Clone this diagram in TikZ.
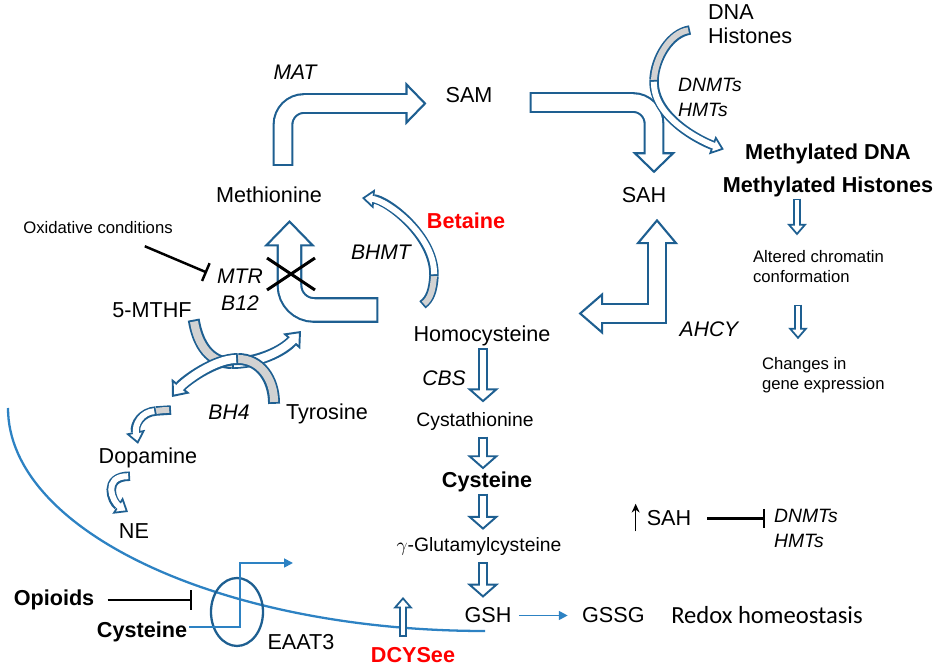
\documentclass[tikz,border=0pt]{standalone}
\usepackage{fontspec}
\setmainfont{Liberation Sans}
\newfontfamily\calibri{Carlito}
\usepackage{tikz}
\usetikzlibrary{shapes, arrows.meta, positioning, calc}

\definecolor{pathblue}{RGB}{30,95,145}
\definecolor{lineblue}{RGB}{45,130,195}
\definecolor{tailgray}{RGB}{210,210,210}

\tikzstyle{metab} = [font=\fontsize{12.3}{14}\selectfont, inner sep=1pt]
\tikzstyle{metabsmall} = [font=\fontsize{11}{13}\selectfont, inner sep=1pt]
\tikzstyle{metabbold} = [font=\fontsize{12.3}{14}\selectfont\bfseries, inner sep=1pt]
\tikzstyle{drug} = [metabbold, text=red]
\tikzstyle{enzyme} = [font=\fontsize{12}{14}\selectfont\itshape, inner sep=1pt]
\tikzstyle{note} = [font=\fontsize{9.5}{11.3}\selectfont, align=left, inner sep=1pt]
\tikzstyle{redox} = [font=\calibri\fontsize{14}{16}\selectfont, inner sep=1pt]
\tikzstyle{bigbend} = [draw=pathblue, line width=11.8pt, rounded corners=12pt, -{Triangle[length=12pt 0, width=24.5pt 0, fill=white, color=pathblue, line width=1.2pt 0]}, postaction={draw=white, line width=9.4pt, arrows=-, shorten <=1.2pt, shorten >=10pt}]
\tikzstyle{mtrbend} = [draw=pathblue, line width=14.6pt, rounded corners=14pt, -{Triangle[length=15pt 0, width=29pt 0, fill=white, color=pathblue, line width=1.2pt 0]}, postaction={draw=white, line width=12.2pt, arrows=-, shorten <=1.2pt, shorten >=13pt}]
\tikzstyle{twoway} = [draw=pathblue, line width=11.8pt, {Triangle[length=14pt 0, width=24pt 0, fill=white, color=pathblue, line width=1.2pt 0]}-{Triangle[length=14.5pt 0, width=24pt 0, fill=white, color=pathblue, line width=1.2pt 0]}, postaction={draw=white, line width=9.4pt, arrows=-, shorten <=12pt, shorten >=12.5pt}]
\tikzstyle{stepdown} = [draw=pathblue, line width=6pt, -{Triangle[length=8pt 0, width=18pt 0, fill=white, color=pathblue, line width=1.1pt 0]}, postaction={draw=white, line width=3.8pt, arrows=-, shorten <=1.1pt, shorten >=6.5pt}]
\tikzstyle{smallstep} = [draw=pathblue, line width=4.4pt, -{Triangle[length=6.5pt 0, width=11pt 0, fill=white, color=pathblue, line width=1pt 0]}, postaction={draw=white, line width=2.4pt, arrows=-, shorten <=1pt, shorten >=5pt}]
\tikzstyle{curvearr} = [draw=pathblue, line width=6.8pt, -{Triangle[length=8pt 0, width=13pt 0, fill=white, color=pathblue, line width=1.1pt 0]}, postaction={draw=white, line width=4.6pt, arrows=-, shorten <=1.1pt, shorten >=6.5pt}]
\tikzstyle{curvetail} = [draw=pathblue, line width=6.8pt, postaction={draw=tailgray, line width=4.6pt, shorten <=1.1pt}]
\tikzstyle{thincurve} = [draw=pathblue, line width=5.4pt, -{Triangle[length=7pt 0, width=11pt 0, fill=white, color=pathblue, line width=1pt 0]}, postaction={draw=white, line width=3.4pt, arrows=-, shorten <=1pt, shorten >=5.5pt}]
\tikzstyle{thincurvetail} = [draw=pathblue, line width=5.4pt, postaction={draw=tailgray, line width=3.4pt, shorten <=1pt}]
\tikzstyle{inhibit} = [line width=1.4pt, -{Bar[width=11pt 0]}]
\tikzstyle{thinarrow} = [draw=lineblue, line width=1pt, -{Triangle[length=5pt 0, width=5pt 0]}]
\tikzstyle{uparrow} = [line width=0.9pt, -{Stealth[length=5pt 0, width=4.5pt 0]}]
\tikzstyle{membrane} = [draw=lineblue, line width=1.3pt]
\tikzstyle{transporter} = [ellipse, draw=pathblue, line width=1.3pt, minimum width=1.04cm, minimum height=1.36cm, inner sep=0pt]
\tikzstyle{crossmark} = [cross out, draw=black, line width=1.7pt, minimum width=0.9cm, minimum height=0.58cm, inner sep=0pt]

\begin{document}
\begin{tikzpicture}[x=0.02cm, y=-0.02cm]
\useasboundingbox (0,0) rectangle (941,665);

% cell membrane
\draw[membrane] (8,408) .. controls (8,531) and (222,631) .. (485,631);

% methionine cycle
\node[enzyme] (mat) at (295,72) {MAT};
\node[metab] (sam) at (469,95) {SAM};
\node[metab] (met) at (269,195) {Methionine};
\node[metab] (sah) at (644,195) {SAH};
\node[metab] (hcy) at (482,336) {Homocysteine};
\node[enzyme] (bhmt) at (381,252) {BHMT};
\node[drug] (betaine) at (466,221) {Betaine};
\node[enzyme] (ahcy) at (709,329) {AHCY};
\node[note] (ox) at (98,228) {Oxidative conditions};
\node[enzyme] (mtr) at (240,276) {MTR};
\node[enzyme, below=0.17cm of mtr] (b12) {B12};
\node[metab] (mthf) at (152,310) {5-MTHF};
\node[enzyme] (bh4) at (229,412) {BH4};
\node[metab] (tyr) at (327,414) {Tyrosine};
\node[metab] (dopa) at (148,458) {Dopamine};
\node[metab] (ne) at (134,531.5) {NE};

% methylation targets
\node[metab, font=\fontsize{12.3}{13.6}\selectfont, align=left, anchor=west] (dna) at (706,24) {DNA\\Histones};
\node[enzyme, font=\fontsize{11}{14.2}\selectfont\itshape, align=left, anchor=west] (dnmt) at (676,97) {DNMTs\\HMTs};
\node[metabbold, font=\fontsize{12.3}{18.7}\selectfont\bfseries, align=center] (methyl) at (828,170) {Methylated DNA\\Methylated Histones};
\node[note, anchor=west] (chrom) at (751,266.5) {Altered chromatin\\conformation};
\node[note, anchor=west] (gene) at (760,375) {Changes in\\gene expression};

% transsulfuration
\node[enzyme] (cbs) at (444,378) {CBS};
\node[metabsmall] (cysta) at (475,421.5) {Cystathionine};
\node[metabbold] (cys) at (487,481.5) {Cysteine};
\node[metabsmall] (glu) at (479,547) {$\gamma$-Glutamylcysteine};
\node[metab] (gsh) at (488,615.5) {GSH};
\node[metab, right=1.33cm of gsh] (gssg) {GSSG};
\node[redox, right=0.45cm of gssg] (redox) {Redox homeostasis};
\node[metab] (sahup) at (669,518.5) {SAH};
\node[enzyme, font=\fontsize{11}{14.2}\selectfont\itshape, align=left, anchor=west] (dnmt2) at (772,528) {DNMTs\\HMTs};

% cell surface
\node[metabbold] (opi) at (54,600) {Opioids};
\node[metabbold] (cysb) at (142,632) {Cysteine};
\node[metab] (eaatlab) at (301,642) {EAAT3};
\node[drug] (dcysee) at (413,655) {DCYSee};
\node[transporter] (eaat) at (237,612) {};

% block arrows
\draw[bigbend] ($(met.north)+(14,-19)$) |- ($(sam.west)+(-17,8.5)$);
\draw[bigbend] ($(sam.east)+(35,7.5)$) -| ($(sah.north)+(10,-12)$);
\draw[mtrbend] ($(hcy.west)+(-33,-26)$) -| ($(met.south)+(20.5,15)$);
\draw[twoway] ($(hcy.east)+(26,-22.5)$) -| ($(sah.south)+(13,14)$);
\node[crossmark] (block) at (291,274) {};

\draw[stepdown] ($(hcy.south)+(1,0)$) -- ($(hcy.south |- cysta.north)+(1,-8)$);
\draw[stepdown] ($(cysta.south)+(8,4)$) -- ($(cysta.south |- cys.north)+(8,0)$);
\draw[stepdown] ($(cys.south)+(-4,0)$) -- ($(cys.south |- glu.north)+(-4,-6)$);
\draw[stepdown] ($(glu.south)+(4,4)$) -- ($(glu.south |- gsh.north)+(4,-8)$);

\draw[smallstep] ($(chrom.north west |- methyl.south)+(46,0)$) -- ($(chrom.north west)+(46,-13)$);
\draw[smallstep] ($(chrom.south west)+(47,20)$) -- ($(chrom.south west |- gene.north)+(47,-16)$);
\coordinate (dcin) at (403,597);
\draw[smallstep] ($(dcysee.north)+(-10,-8)$) -- (dcin);

% curved arrows
\coordinate (mthfx) at (232,363);
\coordinate (mtrin) at (301,331);
\draw[curvetail] (mthf.south east) .. controls +(4,25) and +(-22,0) .. (mthfx);
\draw[curvearr] (mthfx) .. controls +(26,0) and +(-18,20) .. (mtrin);

\coordinate (tyrx) at (238,359);
\coordinate (tyrout) at (172,397);
\draw[curvetail] ($(tyr.north west)+(-10,2)$) .. controls +(0,-25) and +(22,0) .. (tyrx);
\draw[curvearr] (tyrx) .. controls +(-24,0) and +(12,-15) .. (tyrout);

\coordinate (ctail) at (171,410);
\coordinate (cmid) at (156,411);
\draw[thincurvetail] (ctail) .. controls (164,410) .. (cmid);
\draw[thincurve] (cmid) .. controls (142,412) and (134,424) .. ($(dopa.north)+(-10,-2)$);
\draw[thincurve] ($(dopa.south)+(-18,6)$) .. controls +(-28,0) and +(-16,-10) .. ($(ne.north)+(-6,-10)$);

\coordinate (bhmtx) at (434,276);
\draw[thincurvetail] ($(hcy.north west)+(11,-19)$) .. controls +(8,-6) and +(-1,14) .. (bhmtx);
\draw[thincurve] (bhmtx) .. controls +(1,-40) and +(25,2) .. ($(met.east)+(38,3)$);

\coordinate (dnax) at (654,80);
\draw[thincurvetail] ($(dna.west)+(-16,6)$) .. controls +(-20,3) and +(1,-22) .. (dnax);
\draw[thincurve] (dnax) .. controls +(-1,38) and +(-22,-8) .. ($(methyl.north west)+(3,8)$);

% thin connectors
\draw[thinarrow, shorten <=3pt, shorten >=7pt] (gsh) -- (gssg);
\coordinate (cysin) at (293,563);
\draw[thinarrow] ($(cysb.east)+(0,-5)$) -| ($(eaat.center)+(3,-49)$) -- (cysin);

% inhibitions
\draw[inhibit, shorten <=6.5pt, shorten >=10pt] (opi.east) -- (opi.east -| eaat.west);
\draw[inhibit, shorten >=5pt] ($(ox.south east)+(-30,10)$) -- (mtr.west);
\draw[inhibit, shorten <=8pt, shorten >=4pt] (sahup.east) -- (sahup.east -| dnmt2.west);
\draw[uparrow] ($(sahup.south west)+(-9,3)$) -- ($(sahup.north west)+(-9,-5)$);
\end{tikzpicture}
\end{document}
